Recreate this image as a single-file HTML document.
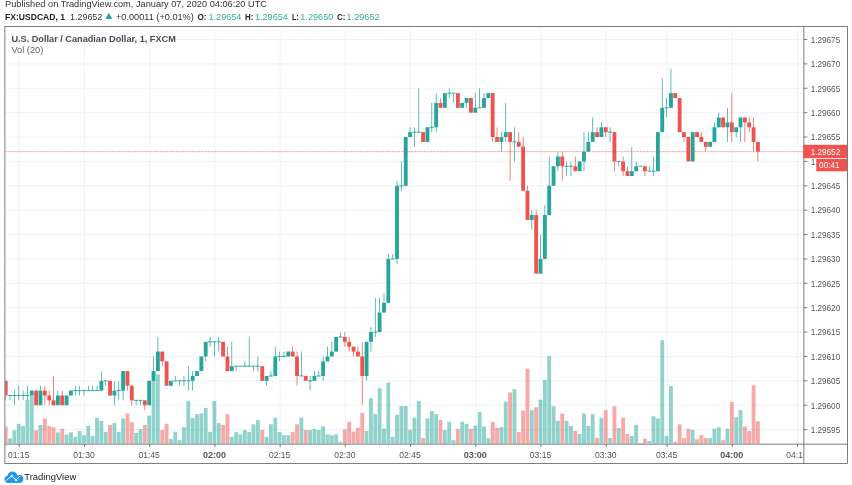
<!DOCTYPE html>
<html lang="en"><head><meta charset="utf-8"><title>FX:USDCAD chart</title>
<style>html,body{margin:0;padding:0;background:#fff;overflow:hidden}svg text{white-space:pre}</style></head>
<body>
<svg width="852" height="485" viewBox="0 0 852 485" style="display:block">
<defs><filter id="soft" x="0" y="0" width="852" height="485" filterUnits="userSpaceOnUse"><feGaussianBlur stdDeviation="0.7"/></filter></defs>
<g filter="url(#soft)">
<rect width="852" height="485" fill="#fff"/>
<defs><clipPath id="pane"><rect x="5.4" y="27.0" width="797.95" height="416.7"/></clipPath></defs>
<g stroke="#e1ecf2" stroke-width="0.72" stroke-opacity="0.85" clip-path="url(#pane)"><line x1="4.9" x2="803.85" y1="429.60" y2="429.60"/><line x1="4.9" x2="803.85" y1="405.22" y2="405.22"/><line x1="4.9" x2="803.85" y1="380.84" y2="380.84"/><line x1="4.9" x2="803.85" y1="356.46" y2="356.46"/><line x1="4.9" x2="803.85" y1="332.08" y2="332.08"/><line x1="4.9" x2="803.85" y1="307.70" y2="307.70"/><line x1="4.9" x2="803.85" y1="283.32" y2="283.32"/><line x1="4.9" x2="803.85" y1="258.94" y2="258.94"/><line x1="4.9" x2="803.85" y1="234.56" y2="234.56"/><line x1="4.9" x2="803.85" y1="210.18" y2="210.18"/><line x1="4.9" x2="803.85" y1="185.80" y2="185.80"/><line x1="4.9" x2="803.85" y1="161.42" y2="161.42"/><line x1="4.9" x2="803.85" y1="137.04" y2="137.04"/><line x1="4.9" x2="803.85" y1="112.66" y2="112.66"/><line x1="4.9" x2="803.85" y1="88.28" y2="88.28"/><line x1="4.9" x2="803.85" y1="63.90" y2="63.90"/><line x1="4.9" x2="803.85" y1="39.52" y2="39.52"/><line x1="19.25" x2="19.25" y1="26.5" y2="444.2"/><line x1="84.47" x2="84.47" y1="26.5" y2="444.2"/><line x1="149.69" x2="149.69" y1="26.5" y2="444.2"/><line x1="214.91" x2="214.91" y1="26.5" y2="444.2"/><line x1="280.13" x2="280.13" y1="26.5" y2="444.2"/><line x1="345.35" x2="345.35" y1="26.5" y2="444.2"/><line x1="410.57" x2="410.57" y1="26.5" y2="444.2"/><line x1="475.79" x2="475.79" y1="26.5" y2="444.2"/><line x1="541.01" x2="541.01" y1="26.5" y2="444.2"/><line x1="606.23" x2="606.23" y1="26.5" y2="444.2"/><line x1="667.10" x2="667.10" y1="26.5" y2="444.2"/><line x1="732.32" x2="732.32" y1="26.5" y2="444.2"/><line x1="797.54" x2="797.54" y1="26.5" y2="444.2"/></g>
<g clip-path="url(#pane)"><g fill="#26a69a" fill-opacity="0.5"><rect x="8.13" y="438.40" width="3.85" height="5.30"/><rect x="12.48" y="430.30" width="3.85" height="13.40"/><rect x="16.82" y="423.80" width="3.85" height="19.90"/><rect x="21.17" y="426.20" width="3.85" height="17.50"/><rect x="25.52" y="399.80" width="3.85" height="43.90"/><rect x="29.87" y="395.70" width="3.85" height="48.00"/><rect x="38.56" y="425.00" width="3.85" height="18.70"/><rect x="55.96" y="432.40" width="3.85" height="11.30"/><rect x="64.65" y="434.60" width="3.85" height="9.10"/><rect x="69.00" y="432.40" width="3.85" height="11.30"/><rect x="73.35" y="436.90" width="3.85" height="6.80"/><rect x="77.70" y="431.10" width="3.85" height="12.60"/><rect x="82.05" y="435.20" width="3.85" height="8.50"/><rect x="86.39" y="425.90" width="3.85" height="17.80"/><rect x="90.74" y="436.10" width="3.85" height="7.60"/><rect x="95.09" y="417.80" width="3.85" height="25.90"/><rect x="99.44" y="420.90" width="3.85" height="22.80"/><rect x="103.78" y="431.80" width="3.85" height="11.90"/><rect x="112.48" y="423.10" width="3.85" height="20.60"/><rect x="116.83" y="431.80" width="3.85" height="11.90"/><rect x="121.18" y="418.50" width="3.85" height="25.20"/><rect x="134.22" y="433.00" width="3.85" height="10.70"/><rect x="138.57" y="429.00" width="3.85" height="14.70"/><rect x="147.26" y="415.60" width="3.85" height="28.10"/><rect x="151.61" y="380.00" width="3.85" height="63.70"/><rect x="155.96" y="374.30" width="3.85" height="69.40"/><rect x="169.00" y="439.00" width="3.85" height="4.70"/><rect x="173.35" y="431.80" width="3.85" height="11.90"/><rect x="177.70" y="440.20" width="3.85" height="3.50"/><rect x="182.05" y="427.20" width="3.85" height="16.50"/><rect x="186.40" y="401.00" width="3.85" height="42.70"/><rect x="190.74" y="418.10" width="3.85" height="25.60"/><rect x="195.09" y="414.10" width="3.85" height="29.60"/><rect x="199.44" y="413.50" width="3.85" height="30.20"/><rect x="203.79" y="407.90" width="3.85" height="35.80"/><rect x="208.14" y="431.80" width="3.85" height="11.90"/><rect x="212.48" y="401.00" width="3.85" height="42.70"/><rect x="216.83" y="423.10" width="3.85" height="20.60"/><rect x="229.88" y="436.90" width="3.85" height="6.80"/><rect x="234.22" y="432.10" width="3.85" height="11.60"/><rect x="238.57" y="434.40" width="3.85" height="9.30"/><rect x="242.92" y="430.00" width="3.85" height="13.70"/><rect x="247.27" y="432.10" width="3.85" height="11.60"/><rect x="251.62" y="424.30" width="3.85" height="19.40"/><rect x="255.96" y="420.10" width="3.85" height="23.60"/><rect x="264.66" y="436.90" width="3.85" height="6.80"/><rect x="269.01" y="424.30" width="3.85" height="19.40"/><rect x="273.36" y="417.80" width="3.85" height="25.90"/><rect x="277.70" y="432.10" width="3.85" height="11.60"/><rect x="282.05" y="435.20" width="3.85" height="8.50"/><rect x="286.40" y="435.20" width="3.85" height="8.50"/><rect x="299.44" y="417.80" width="3.85" height="25.90"/><rect x="308.14" y="430.00" width="3.85" height="13.70"/><rect x="312.49" y="428.80" width="3.85" height="14.90"/><rect x="316.84" y="430.00" width="3.85" height="13.70"/><rect x="321.19" y="426.50" width="3.85" height="17.20"/><rect x="325.53" y="434.40" width="3.85" height="9.30"/><rect x="329.88" y="435.20" width="3.85" height="8.50"/><rect x="334.23" y="434.40" width="3.85" height="9.30"/><rect x="338.58" y="441.70" width="3.85" height="2.00"/><rect x="364.66" y="430.90" width="3.85" height="12.80"/><rect x="369.01" y="398.20" width="3.85" height="45.50"/><rect x="373.36" y="414.10" width="3.85" height="29.60"/><rect x="377.71" y="388.20" width="3.85" height="55.50"/><rect x="382.06" y="428.80" width="3.85" height="14.90"/><rect x="386.40" y="382.60" width="3.85" height="61.10"/><rect x="390.75" y="436.90" width="3.85" height="6.80"/><rect x="395.10" y="414.70" width="3.85" height="29.00"/><rect x="399.45" y="406.00" width="3.85" height="37.70"/><rect x="403.80" y="406.00" width="3.85" height="37.70"/><rect x="408.14" y="430.00" width="3.85" height="13.70"/><rect x="412.49" y="417.80" width="3.85" height="25.90"/><rect x="416.84" y="401.00" width="3.85" height="42.70"/><rect x="425.54" y="418.50" width="3.85" height="25.20"/><rect x="429.88" y="411.00" width="3.85" height="32.70"/><rect x="434.23" y="414.10" width="3.85" height="29.60"/><rect x="442.93" y="430.00" width="3.85" height="13.70"/><rect x="447.28" y="421.90" width="3.85" height="21.80"/><rect x="451.62" y="440.20" width="3.85" height="3.50"/><rect x="460.32" y="421.90" width="3.85" height="21.80"/><rect x="464.67" y="424.00" width="3.85" height="19.70"/><rect x="473.36" y="425.70" width="3.85" height="18.00"/><rect x="477.71" y="412.00" width="3.85" height="31.70"/><rect x="482.06" y="426.50" width="3.85" height="17.20"/><rect x="486.41" y="438.10" width="3.85" height="5.60"/><rect x="499.45" y="427.20" width="3.85" height="16.50"/><rect x="503.80" y="401.70" width="3.85" height="42.00"/><rect x="512.50" y="389.10" width="3.85" height="54.60"/><rect x="529.89" y="410.10" width="3.85" height="33.60"/><rect x="538.59" y="399.70" width="3.85" height="44.00"/><rect x="542.93" y="380.00" width="3.85" height="63.70"/><rect x="547.28" y="356.20" width="3.85" height="87.50"/><rect x="551.63" y="406.30" width="3.85" height="37.40"/><rect x="555.98" y="420.90" width="3.85" height="22.80"/><rect x="564.67" y="420.90" width="3.85" height="22.80"/><rect x="569.02" y="425.90" width="3.85" height="17.80"/><rect x="577.72" y="434.00" width="3.85" height="9.70"/><rect x="582.07" y="413.50" width="3.85" height="30.20"/><rect x="586.41" y="425.90" width="3.85" height="17.80"/><rect x="590.76" y="414.10" width="3.85" height="29.60"/><rect x="599.46" y="417.80" width="3.85" height="25.90"/><rect x="608.15" y="438.10" width="3.85" height="5.60"/><rect x="616.85" y="428.00" width="3.85" height="15.70"/><rect x="629.89" y="435.90" width="3.85" height="7.80"/><rect x="634.24" y="425.00" width="3.85" height="18.70"/><rect x="638.59" y="443.00" width="3.85" height="0.70"/><rect x="647.29" y="441.10" width="3.85" height="2.60"/><rect x="651.63" y="416.30" width="3.85" height="27.40"/><rect x="655.98" y="418.50" width="3.85" height="25.20"/><rect x="660.33" y="340.20" width="3.85" height="103.50"/><rect x="664.68" y="435.90" width="3.85" height="7.80"/><rect x="669.02" y="386.00" width="3.85" height="57.70"/><rect x="690.76" y="430.00" width="3.85" height="13.70"/><rect x="708.16" y="438.10" width="3.85" height="5.60"/><rect x="712.50" y="428.80" width="3.85" height="14.90"/><rect x="716.85" y="427.20" width="3.85" height="16.50"/><rect x="725.55" y="428.80" width="3.85" height="14.90"/><rect x="734.25" y="417.20" width="3.85" height="26.50"/><rect x="738.59" y="410.10" width="3.85" height="33.60"/></g>
<g fill="#ef5350" fill-opacity="0.5"><rect x="3.78" y="426.50" width="3.85" height="17.20"/><rect x="34.22" y="430.30" width="3.85" height="13.40"/><rect x="42.91" y="418.50" width="3.85" height="25.20"/><rect x="47.26" y="425.90" width="3.85" height="17.80"/><rect x="51.61" y="427.20" width="3.85" height="16.50"/><rect x="60.30" y="428.80" width="3.85" height="14.90"/><rect x="108.13" y="425.00" width="3.85" height="18.70"/><rect x="125.53" y="413.50" width="3.85" height="30.20"/><rect x="129.87" y="422.20" width="3.85" height="21.50"/><rect x="142.92" y="425.00" width="3.85" height="18.70"/><rect x="160.31" y="430.00" width="3.85" height="13.70"/><rect x="164.66" y="423.80" width="3.85" height="19.90"/><rect x="221.18" y="425.00" width="3.85" height="18.70"/><rect x="225.53" y="414.10" width="3.85" height="29.60"/><rect x="260.31" y="430.00" width="3.85" height="13.70"/><rect x="290.75" y="432.10" width="3.85" height="11.60"/><rect x="295.10" y="424.30" width="3.85" height="19.40"/><rect x="303.79" y="430.00" width="3.85" height="13.70"/><rect x="342.92" y="429.30" width="3.85" height="14.40"/><rect x="347.27" y="421.90" width="3.85" height="21.80"/><rect x="351.62" y="431.50" width="3.85" height="12.20"/><rect x="355.97" y="427.80" width="3.85" height="15.90"/><rect x="360.32" y="412.90" width="3.85" height="30.80"/><rect x="421.19" y="438.10" width="3.85" height="5.60"/><rect x="438.58" y="420.10" width="3.85" height="23.60"/><rect x="455.97" y="429.00" width="3.85" height="14.70"/><rect x="469.02" y="429.00" width="3.85" height="14.70"/><rect x="490.76" y="421.90" width="3.85" height="21.80"/><rect x="495.10" y="427.80" width="3.85" height="15.90"/><rect x="508.15" y="392.40" width="3.85" height="51.30"/><rect x="516.85" y="432.10" width="3.85" height="11.60"/><rect x="521.19" y="410.60" width="3.85" height="33.10"/><rect x="525.54" y="368.60" width="3.85" height="75.10"/><rect x="534.24" y="407.30" width="3.85" height="36.40"/><rect x="560.33" y="413.50" width="3.85" height="30.20"/><rect x="573.37" y="430.90" width="3.85" height="12.80"/><rect x="595.11" y="438.10" width="3.85" height="5.60"/><rect x="603.81" y="410.10" width="3.85" height="33.60"/><rect x="612.50" y="406.30" width="3.85" height="37.40"/><rect x="621.20" y="417.80" width="3.85" height="25.90"/><rect x="625.55" y="434.00" width="3.85" height="9.70"/><rect x="642.94" y="438.70" width="3.85" height="5.00"/><rect x="673.37" y="441.70" width="3.85" height="2.00"/><rect x="677.72" y="424.30" width="3.85" height="19.40"/><rect x="682.07" y="438.10" width="3.85" height="5.60"/><rect x="686.42" y="428.80" width="3.85" height="14.90"/><rect x="695.11" y="439.30" width="3.85" height="4.40"/><rect x="699.46" y="435.20" width="3.85" height="8.50"/><rect x="703.81" y="438.10" width="3.85" height="5.60"/><rect x="721.20" y="440.20" width="3.85" height="3.50"/><rect x="729.90" y="401.90" width="3.85" height="41.80"/><rect x="742.94" y="426.50" width="3.85" height="17.20"/><rect x="747.29" y="430.90" width="3.85" height="12.80"/><rect x="751.64" y="385.20" width="3.85" height="58.50"/><rect x="755.99" y="421.30" width="3.85" height="22.40"/></g></g>
<g clip-path="url(#pane)"><g fill="#26a69a"><rect x="9.69" y="395.47" width="0.72" height="4.88"/><rect x="8.13" y="394.97" width="3.85" height="1.00"/><rect x="14.04" y="390.59" width="0.72" height="14.63"/><rect x="12.48" y="394.97" width="3.85" height="1.00"/><rect x="18.39" y="385.72" width="0.72" height="14.63"/><rect x="16.82" y="394.97" width="3.85" height="1.00"/><rect x="22.74" y="390.59" width="0.72" height="9.75"/><rect x="21.17" y="394.97" width="3.85" height="1.00"/><rect x="27.09" y="385.72" width="0.72" height="14.63"/><rect x="25.52" y="394.97" width="3.85" height="1.00"/><rect x="31.43" y="390.59" width="0.72" height="4.88"/><rect x="29.87" y="390.59" width="3.85" height="4.88"/><rect x="40.13" y="385.72" width="0.72" height="19.50"/><rect x="38.56" y="390.59" width="3.85" height="14.63"/><rect x="57.52" y="390.59" width="0.72" height="14.63"/><rect x="55.96" y="395.47" width="3.85" height="9.75"/><rect x="66.22" y="395.47" width="0.72" height="9.75"/><rect x="64.65" y="395.47" width="3.85" height="9.75"/><rect x="70.57" y="390.59" width="0.72" height="4.88"/><rect x="69.00" y="390.59" width="3.85" height="4.88"/><rect x="74.91" y="385.72" width="0.72" height="9.75"/><rect x="73.35" y="390.09" width="3.85" height="1.00"/><rect x="79.26" y="385.72" width="0.72" height="9.75"/><rect x="77.70" y="390.09" width="3.85" height="1.00"/><rect x="83.61" y="390.59" width="0.72" height="4.88"/><rect x="82.05" y="390.09" width="3.85" height="1.00"/><rect x="87.96" y="385.72" width="0.72" height="4.88"/><rect x="86.39" y="390.09" width="3.85" height="1.00"/><rect x="92.31" y="385.72" width="0.72" height="4.88"/><rect x="90.74" y="390.09" width="3.85" height="1.00"/><rect x="96.65" y="385.72" width="0.72" height="4.88"/><rect x="95.09" y="390.09" width="3.85" height="1.00"/><rect x="101.00" y="371.09" width="0.72" height="19.50"/><rect x="99.44" y="380.84" width="3.85" height="9.75"/><rect x="105.35" y="380.84" width="0.72" height="4.88"/><rect x="103.78" y="380.34" width="3.85" height="1.00"/><rect x="114.05" y="380.84" width="0.72" height="24.38"/><rect x="112.48" y="390.59" width="3.85" height="4.88"/><rect x="118.39" y="380.84" width="0.72" height="19.50"/><rect x="116.83" y="390.09" width="3.85" height="1.00"/><rect x="122.74" y="371.09" width="0.72" height="29.26"/><rect x="121.18" y="371.09" width="3.85" height="19.50"/><rect x="135.79" y="400.34" width="0.72" height="4.88"/><rect x="134.22" y="399.84" width="3.85" height="1.00"/><rect x="140.13" y="400.34" width="0.72" height="4.88"/><rect x="138.57" y="399.84" width="3.85" height="1.00"/><rect x="148.83" y="380.84" width="0.72" height="24.38"/><rect x="147.26" y="380.84" width="3.85" height="24.38"/><rect x="153.18" y="356.46" width="0.72" height="24.38"/><rect x="151.61" y="371.09" width="3.85" height="9.75"/><rect x="157.53" y="336.96" width="0.72" height="34.13"/><rect x="155.96" y="351.58" width="3.85" height="19.50"/><rect x="170.57" y="380.84" width="0.72" height="4.88"/><rect x="169.00" y="380.84" width="3.85" height="4.88"/><rect x="174.92" y="375.96" width="0.72" height="4.88"/><rect x="173.35" y="380.34" width="3.85" height="1.00"/><rect x="179.27" y="380.84" width="0.72" height="4.88"/><rect x="177.70" y="380.34" width="3.85" height="1.00"/><rect x="183.61" y="375.96" width="0.72" height="9.75"/><rect x="182.05" y="380.34" width="3.85" height="1.00"/><rect x="187.96" y="366.21" width="0.72" height="24.38"/><rect x="186.40" y="380.34" width="3.85" height="1.00"/><rect x="192.31" y="371.09" width="0.72" height="19.50"/><rect x="190.74" y="375.96" width="3.85" height="4.88"/><rect x="196.66" y="371.09" width="0.72" height="4.88"/><rect x="195.09" y="371.09" width="3.85" height="4.88"/><rect x="201.01" y="356.46" width="0.72" height="14.63"/><rect x="199.44" y="356.46" width="3.85" height="14.63"/><rect x="205.35" y="341.83" width="0.72" height="19.50"/><rect x="203.79" y="341.83" width="3.85" height="14.63"/><rect x="209.70" y="336.96" width="0.72" height="9.75"/><rect x="208.14" y="341.33" width="3.85" height="1.00"/><rect x="214.05" y="341.83" width="0.72" height="14.63"/><rect x="212.48" y="341.33" width="3.85" height="1.00"/><rect x="218.40" y="336.96" width="0.72" height="14.63"/><rect x="216.83" y="341.33" width="3.85" height="1.00"/><rect x="231.44" y="341.83" width="0.72" height="29.26"/><rect x="229.88" y="366.21" width="3.85" height="4.88"/><rect x="235.79" y="366.21" width="0.72" height="4.88"/><rect x="234.22" y="365.71" width="3.85" height="1.00"/><rect x="240.14" y="366.21" width="0.72" height="0.00"/><rect x="238.57" y="365.71" width="3.85" height="1.00"/><rect x="244.49" y="361.34" width="0.72" height="4.88"/><rect x="242.92" y="365.71" width="3.85" height="1.00"/><rect x="248.83" y="336.96" width="0.72" height="29.26"/><rect x="247.27" y="365.71" width="3.85" height="1.00"/><rect x="253.18" y="366.21" width="0.72" height="4.88"/><rect x="251.62" y="365.71" width="3.85" height="1.00"/><rect x="257.53" y="356.46" width="0.72" height="14.63"/><rect x="255.96" y="365.71" width="3.85" height="1.00"/><rect x="266.23" y="375.96" width="0.72" height="9.75"/><rect x="264.66" y="375.96" width="3.85" height="4.88"/><rect x="270.57" y="371.09" width="0.72" height="4.88"/><rect x="269.01" y="375.46" width="3.85" height="1.00"/><rect x="274.92" y="346.71" width="0.72" height="29.26"/><rect x="273.36" y="356.46" width="3.85" height="19.50"/><rect x="279.27" y="351.58" width="0.72" height="9.75"/><rect x="277.70" y="355.96" width="3.85" height="1.00"/><rect x="283.62" y="351.58" width="0.72" height="4.88"/><rect x="282.05" y="355.96" width="3.85" height="1.00"/><rect x="287.97" y="351.58" width="0.72" height="4.88"/><rect x="286.40" y="351.58" width="3.85" height="4.88"/><rect x="301.01" y="351.58" width="0.72" height="24.38"/><rect x="299.44" y="375.46" width="3.85" height="1.00"/><rect x="309.71" y="375.96" width="0.72" height="14.63"/><rect x="308.14" y="380.34" width="3.85" height="1.00"/><rect x="314.05" y="371.09" width="0.72" height="9.75"/><rect x="312.49" y="375.96" width="3.85" height="4.88"/><rect x="318.40" y="371.09" width="0.72" height="4.88"/><rect x="316.84" y="375.46" width="3.85" height="1.00"/><rect x="322.75" y="356.46" width="0.72" height="24.38"/><rect x="321.19" y="361.34" width="3.85" height="14.63"/><rect x="327.10" y="346.71" width="0.72" height="14.63"/><rect x="325.53" y="356.46" width="3.85" height="4.88"/><rect x="331.45" y="341.83" width="0.72" height="14.63"/><rect x="329.88" y="351.58" width="3.85" height="4.88"/><rect x="335.79" y="336.96" width="0.72" height="14.63"/><rect x="334.23" y="336.96" width="3.85" height="14.63"/><rect x="340.14" y="332.08" width="0.72" height="4.88"/><rect x="338.58" y="336.46" width="3.85" height="1.00"/><rect x="366.23" y="341.83" width="0.72" height="39.01"/><rect x="364.66" y="341.83" width="3.85" height="34.13"/><rect x="370.58" y="327.20" width="0.72" height="24.38"/><rect x="369.01" y="332.08" width="3.85" height="9.75"/><rect x="374.93" y="297.95" width="0.72" height="39.01"/><rect x="373.36" y="331.58" width="3.85" height="1.00"/><rect x="379.27" y="297.95" width="0.72" height="34.13"/><rect x="377.71" y="312.58" width="3.85" height="19.50"/><rect x="383.62" y="293.07" width="0.72" height="19.50"/><rect x="382.06" y="302.82" width="3.85" height="9.75"/><rect x="387.97" y="254.06" width="0.72" height="48.76"/><rect x="386.40" y="258.94" width="3.85" height="43.88"/><rect x="392.32" y="254.06" width="0.72" height="4.88"/><rect x="390.75" y="258.44" width="3.85" height="1.00"/><rect x="396.67" y="180.92" width="0.72" height="82.89"/><rect x="395.10" y="185.80" width="3.85" height="73.14"/><rect x="401.01" y="161.42" width="0.72" height="29.26"/><rect x="399.45" y="185.30" width="3.85" height="1.00"/><rect x="405.36" y="137.04" width="0.72" height="48.76"/><rect x="403.80" y="137.04" width="3.85" height="48.76"/><rect x="409.71" y="127.29" width="0.72" height="9.75"/><rect x="408.14" y="132.16" width="3.85" height="4.88"/><rect x="414.06" y="127.29" width="0.72" height="19.50"/><rect x="412.49" y="131.66" width="3.85" height="1.00"/><rect x="418.41" y="88.28" width="0.72" height="43.88"/><rect x="416.84" y="131.66" width="3.85" height="1.00"/><rect x="427.10" y="127.29" width="0.72" height="14.63"/><rect x="425.54" y="127.29" width="3.85" height="14.63"/><rect x="431.45" y="102.91" width="0.72" height="29.26"/><rect x="429.88" y="126.79" width="3.85" height="1.00"/><rect x="435.80" y="93.16" width="0.72" height="39.01"/><rect x="434.23" y="102.91" width="3.85" height="24.38"/><rect x="444.49" y="93.16" width="0.72" height="14.63"/><rect x="442.93" y="93.16" width="3.85" height="14.63"/><rect x="448.84" y="88.28" width="0.72" height="9.75"/><rect x="447.28" y="92.66" width="3.85" height="1.00"/><rect x="453.19" y="93.16" width="0.72" height="9.75"/><rect x="451.62" y="92.66" width="3.85" height="1.00"/><rect x="461.89" y="102.91" width="0.72" height="4.88"/><rect x="460.32" y="102.91" width="3.85" height="4.88"/><rect x="466.23" y="98.03" width="0.72" height="9.75"/><rect x="464.67" y="98.03" width="3.85" height="4.88"/><rect x="474.93" y="93.16" width="0.72" height="19.50"/><rect x="473.36" y="107.78" width="3.85" height="4.88"/><rect x="479.28" y="88.28" width="0.72" height="19.50"/><rect x="477.71" y="107.28" width="3.85" height="1.00"/><rect x="483.63" y="93.16" width="0.72" height="14.63"/><rect x="482.06" y="98.03" width="3.85" height="9.75"/><rect x="487.97" y="93.16" width="0.72" height="4.88"/><rect x="486.41" y="93.16" width="3.85" height="4.88"/><rect x="501.02" y="132.16" width="0.72" height="19.50"/><rect x="499.45" y="137.04" width="3.85" height="4.88"/><rect x="505.37" y="102.91" width="0.72" height="39.01"/><rect x="503.80" y="132.16" width="3.85" height="4.88"/><rect x="514.06" y="127.29" width="0.72" height="34.13"/><rect x="512.50" y="141.42" width="3.85" height="1.00"/><rect x="531.45" y="210.18" width="0.72" height="19.50"/><rect x="529.89" y="215.06" width="3.85" height="4.88"/><rect x="540.15" y="234.56" width="0.72" height="39.01"/><rect x="538.59" y="258.94" width="3.85" height="14.63"/><rect x="544.50" y="205.30" width="0.72" height="53.64"/><rect x="542.93" y="215.06" width="3.85" height="43.88"/><rect x="548.85" y="156.54" width="0.72" height="58.51"/><rect x="547.28" y="185.80" width="3.85" height="29.26"/><rect x="553.19" y="166.30" width="0.72" height="19.50"/><rect x="551.63" y="166.30" width="3.85" height="19.50"/><rect x="557.54" y="151.67" width="0.72" height="19.50"/><rect x="555.98" y="156.54" width="3.85" height="9.75"/><rect x="566.24" y="161.42" width="0.72" height="14.63"/><rect x="564.67" y="165.80" width="3.85" height="1.00"/><rect x="570.59" y="161.42" width="0.72" height="14.63"/><rect x="569.02" y="165.80" width="3.85" height="1.00"/><rect x="579.28" y="161.42" width="0.72" height="9.75"/><rect x="577.72" y="161.42" width="3.85" height="9.75"/><rect x="583.63" y="132.16" width="0.72" height="39.01"/><rect x="582.07" y="151.67" width="3.85" height="9.75"/><rect x="587.98" y="132.16" width="0.72" height="19.50"/><rect x="586.41" y="141.92" width="3.85" height="9.75"/><rect x="592.33" y="117.54" width="0.72" height="24.38"/><rect x="590.76" y="132.16" width="3.85" height="9.75"/><rect x="601.02" y="122.41" width="0.72" height="14.63"/><rect x="599.46" y="127.29" width="3.85" height="9.75"/><rect x="609.72" y="127.29" width="0.72" height="14.63"/><rect x="608.15" y="131.66" width="3.85" height="1.00"/><rect x="618.41" y="161.42" width="0.72" height="4.88"/><rect x="616.85" y="160.92" width="3.85" height="1.00"/><rect x="631.46" y="146.79" width="0.72" height="29.26"/><rect x="629.89" y="171.17" width="3.85" height="4.88"/><rect x="635.81" y="161.42" width="0.72" height="9.75"/><rect x="634.24" y="166.30" width="3.85" height="4.88"/><rect x="640.15" y="166.30" width="0.72" height="0.00"/><rect x="638.59" y="165.80" width="3.85" height="1.00"/><rect x="648.85" y="166.30" width="0.72" height="4.88"/><rect x="647.29" y="170.67" width="3.85" height="1.00"/><rect x="653.20" y="156.54" width="0.72" height="19.50"/><rect x="651.63" y="170.67" width="3.85" height="1.00"/><rect x="657.55" y="132.16" width="0.72" height="39.01"/><rect x="655.98" y="132.16" width="3.85" height="39.01"/><rect x="661.89" y="78.53" width="0.72" height="53.64"/><rect x="660.33" y="107.78" width="3.85" height="24.38"/><rect x="666.24" y="98.03" width="0.72" height="19.50"/><rect x="664.68" y="107.28" width="3.85" height="1.00"/><rect x="670.59" y="68.78" width="0.72" height="39.01"/><rect x="669.02" y="93.16" width="3.85" height="14.63"/><rect x="692.33" y="132.16" width="0.72" height="29.26"/><rect x="690.76" y="132.16" width="3.85" height="29.26"/><rect x="709.72" y="141.92" width="0.72" height="4.88"/><rect x="708.16" y="141.92" width="3.85" height="4.88"/><rect x="714.07" y="122.41" width="0.72" height="19.50"/><rect x="712.50" y="127.29" width="3.85" height="14.63"/><rect x="718.42" y="112.66" width="0.72" height="14.63"/><rect x="716.85" y="117.54" width="3.85" height="9.75"/><rect x="727.11" y="107.78" width="0.72" height="34.13"/><rect x="725.55" y="122.41" width="3.85" height="4.88"/><rect x="735.81" y="127.29" width="0.72" height="9.75"/><rect x="734.25" y="127.29" width="3.85" height="4.88"/><rect x="740.16" y="117.54" width="0.72" height="24.38"/><rect x="738.59" y="117.54" width="3.85" height="9.75"/></g>
<g fill="#ef5350"><rect x="5.35" y="380.84" width="0.72" height="19.50"/><rect x="3.78" y="380.84" width="3.85" height="14.63"/><rect x="35.78" y="390.59" width="0.72" height="14.63"/><rect x="34.22" y="390.59" width="3.85" height="14.63"/><rect x="44.48" y="385.72" width="0.72" height="19.50"/><rect x="42.91" y="390.59" width="3.85" height="4.88"/><rect x="48.83" y="390.59" width="0.72" height="14.63"/><rect x="47.26" y="395.47" width="3.85" height="4.88"/><rect x="53.17" y="375.96" width="0.72" height="29.26"/><rect x="51.61" y="400.34" width="3.85" height="4.88"/><rect x="61.87" y="390.59" width="0.72" height="14.63"/><rect x="60.30" y="395.47" width="3.85" height="9.75"/><rect x="109.70" y="380.84" width="0.72" height="14.63"/><rect x="108.13" y="380.84" width="3.85" height="14.63"/><rect x="127.09" y="371.09" width="0.72" height="19.50"/><rect x="125.53" y="371.09" width="3.85" height="14.63"/><rect x="131.44" y="385.72" width="0.72" height="19.50"/><rect x="129.87" y="385.72" width="3.85" height="14.63"/><rect x="144.48" y="400.34" width="0.72" height="9.75"/><rect x="142.92" y="400.34" width="3.85" height="4.88"/><rect x="161.87" y="351.58" width="0.72" height="14.63"/><rect x="160.31" y="351.58" width="3.85" height="9.75"/><rect x="166.22" y="361.34" width="0.72" height="24.38"/><rect x="164.66" y="361.34" width="3.85" height="24.38"/><rect x="222.75" y="341.83" width="0.72" height="14.63"/><rect x="221.18" y="341.83" width="3.85" height="14.63"/><rect x="227.09" y="346.71" width="0.72" height="24.38"/><rect x="225.53" y="356.46" width="3.85" height="14.63"/><rect x="261.88" y="366.21" width="0.72" height="14.63"/><rect x="260.31" y="366.21" width="3.85" height="14.63"/><rect x="292.31" y="346.71" width="0.72" height="9.75"/><rect x="290.75" y="351.58" width="3.85" height="4.88"/><rect x="296.66" y="351.58" width="0.72" height="34.13"/><rect x="295.10" y="356.46" width="3.85" height="19.50"/><rect x="305.36" y="375.96" width="0.72" height="4.88"/><rect x="303.79" y="375.96" width="3.85" height="4.88"/><rect x="344.49" y="332.08" width="0.72" height="14.63"/><rect x="342.92" y="336.96" width="3.85" height="4.88"/><rect x="348.84" y="336.96" width="0.72" height="14.63"/><rect x="347.27" y="341.83" width="3.85" height="4.88"/><rect x="353.19" y="346.71" width="0.72" height="9.75"/><rect x="351.62" y="346.71" width="3.85" height="4.88"/><rect x="357.53" y="346.71" width="0.72" height="9.75"/><rect x="355.97" y="351.58" width="3.85" height="4.88"/><rect x="361.88" y="341.83" width="0.72" height="63.39"/><rect x="360.32" y="356.46" width="3.85" height="19.50"/><rect x="422.75" y="132.16" width="0.72" height="9.75"/><rect x="421.19" y="132.16" width="3.85" height="9.75"/><rect x="440.15" y="98.03" width="0.72" height="9.75"/><rect x="438.58" y="102.91" width="3.85" height="4.88"/><rect x="457.54" y="93.16" width="0.72" height="14.63"/><rect x="455.97" y="93.16" width="3.85" height="14.63"/><rect x="470.58" y="98.03" width="0.72" height="14.63"/><rect x="469.02" y="98.03" width="3.85" height="14.63"/><rect x="492.32" y="93.16" width="0.72" height="48.76"/><rect x="490.76" y="93.16" width="3.85" height="43.88"/><rect x="496.67" y="127.29" width="0.72" height="14.63"/><rect x="495.10" y="137.04" width="3.85" height="4.88"/><rect x="509.71" y="132.16" width="0.72" height="48.76"/><rect x="508.15" y="132.16" width="3.85" height="9.75"/><rect x="518.41" y="132.16" width="0.72" height="14.63"/><rect x="516.85" y="141.92" width="3.85" height="4.88"/><rect x="522.76" y="137.04" width="0.72" height="53.64"/><rect x="521.19" y="146.79" width="3.85" height="43.88"/><rect x="527.11" y="185.80" width="0.72" height="34.13"/><rect x="525.54" y="190.68" width="3.85" height="29.26"/><rect x="535.80" y="210.18" width="0.72" height="63.39"/><rect x="534.24" y="215.06" width="3.85" height="58.51"/><rect x="561.89" y="151.67" width="0.72" height="29.26"/><rect x="560.33" y="156.54" width="3.85" height="9.75"/><rect x="574.93" y="156.54" width="0.72" height="14.63"/><rect x="573.37" y="166.30" width="3.85" height="4.88"/><rect x="596.67" y="127.29" width="0.72" height="9.75"/><rect x="595.11" y="132.16" width="3.85" height="4.88"/><rect x="605.37" y="127.29" width="0.72" height="9.75"/><rect x="603.81" y="127.29" width="3.85" height="4.88"/><rect x="614.07" y="132.16" width="0.72" height="39.01"/><rect x="612.50" y="132.16" width="3.85" height="29.26"/><rect x="622.76" y="156.54" width="0.72" height="19.50"/><rect x="621.20" y="161.42" width="3.85" height="9.75"/><rect x="627.11" y="166.30" width="0.72" height="9.75"/><rect x="625.55" y="171.17" width="3.85" height="4.88"/><rect x="644.50" y="166.30" width="0.72" height="9.75"/><rect x="642.94" y="166.30" width="3.85" height="4.88"/><rect x="674.94" y="93.16" width="0.72" height="4.88"/><rect x="673.37" y="93.16" width="3.85" height="4.88"/><rect x="679.29" y="98.03" width="0.72" height="34.13"/><rect x="677.72" y="98.03" width="3.85" height="34.13"/><rect x="683.63" y="132.16" width="0.72" height="9.75"/><rect x="682.07" y="132.16" width="3.85" height="4.88"/><rect x="687.98" y="137.04" width="0.72" height="24.38"/><rect x="686.42" y="137.04" width="3.85" height="24.38"/><rect x="696.68" y="132.16" width="0.72" height="4.88"/><rect x="695.11" y="132.16" width="3.85" height="4.88"/><rect x="701.03" y="132.16" width="0.72" height="9.75"/><rect x="699.46" y="137.04" width="3.85" height="4.88"/><rect x="705.37" y="141.92" width="0.72" height="9.75"/><rect x="703.81" y="141.92" width="3.85" height="4.88"/><rect x="722.77" y="117.54" width="0.72" height="9.75"/><rect x="721.20" y="117.54" width="3.85" height="9.75"/><rect x="731.46" y="93.16" width="0.72" height="48.76"/><rect x="729.90" y="122.41" width="3.85" height="9.75"/><rect x="744.51" y="117.54" width="0.72" height="24.38"/><rect x="742.94" y="117.54" width="3.85" height="4.88"/><rect x="748.85" y="117.54" width="0.72" height="14.63"/><rect x="747.29" y="122.41" width="3.85" height="4.88"/><rect x="753.20" y="117.54" width="0.72" height="34.13"/><rect x="751.64" y="127.29" width="3.85" height="14.63"/><rect x="757.55" y="141.92" width="0.72" height="19.50"/><rect x="755.99" y="141.92" width="3.85" height="9.75"/></g>
<line x1="4.9" x2="803.85" y1="151.67" y2="151.67" stroke="#ef5350" stroke-width="0.8" stroke-dasharray="0.725 0.725"/></g>
<g stroke="#50525a" stroke-width="0.75" fill="none">
<rect x="4.9" y="26.5" width="842.6" height="437.0"/>
<line x1="803.85" x2="803.85" y1="26.5" y2="463.5"/>
<line x1="4.9" x2="847.5" y1="444.2" y2="444.2"/>
<line x1="803.85" x2="807.35" y1="429.60" y2="429.60"/>
<line x1="803.85" x2="807.35" y1="405.22" y2="405.22"/>
<line x1="803.85" x2="807.35" y1="380.84" y2="380.84"/>
<line x1="803.85" x2="807.35" y1="356.46" y2="356.46"/>
<line x1="803.85" x2="807.35" y1="332.08" y2="332.08"/>
<line x1="803.85" x2="807.35" y1="307.70" y2="307.70"/>
<line x1="803.85" x2="807.35" y1="283.32" y2="283.32"/>
<line x1="803.85" x2="807.35" y1="258.94" y2="258.94"/>
<line x1="803.85" x2="807.35" y1="234.56" y2="234.56"/>
<line x1="803.85" x2="807.35" y1="210.18" y2="210.18"/>
<line x1="803.85" x2="807.35" y1="185.80" y2="185.80"/>
<line x1="803.85" x2="807.35" y1="161.42" y2="161.42"/>
<line x1="803.85" x2="807.35" y1="137.04" y2="137.04"/>
<line x1="803.85" x2="807.35" y1="112.66" y2="112.66"/>
<line x1="803.85" x2="807.35" y1="88.28" y2="88.28"/>
<line x1="803.85" x2="807.35" y1="63.90" y2="63.90"/>
<line x1="803.85" x2="807.35" y1="39.52" y2="39.52"/>
<line x1="19.25" x2="19.25" y1="444.2" y2="447.0"/>
<line x1="84.47" x2="84.47" y1="444.2" y2="447.0"/>
<line x1="149.69" x2="149.69" y1="444.2" y2="447.0"/>
<line x1="214.91" x2="214.91" y1="444.2" y2="447.0"/>
<line x1="280.13" x2="280.13" y1="444.2" y2="447.0"/>
<line x1="345.35" x2="345.35" y1="444.2" y2="447.0"/>
<line x1="410.57" x2="410.57" y1="444.2" y2="447.0"/>
<line x1="475.79" x2="475.79" y1="444.2" y2="447.0"/>
<line x1="541.01" x2="541.01" y1="444.2" y2="447.0"/>
<line x1="606.23" x2="606.23" y1="444.2" y2="447.0"/>
<line x1="667.10" x2="667.10" y1="444.2" y2="447.0"/>
<line x1="732.32" x2="732.32" y1="444.2" y2="447.0"/>
<line x1="797.54" x2="797.54" y1="444.2" y2="447.0"/>
</g>
<g font-family="Liberation Sans, Arial, sans-serif" font-size="9.0" fill="#555"><text x="810.7" y="432.90" textLength="29.5" lengthAdjust="spacingAndGlyphs">1.29595</text><text x="810.7" y="408.52" textLength="29.5" lengthAdjust="spacingAndGlyphs">1.29600</text><text x="810.7" y="384.14" textLength="29.5" lengthAdjust="spacingAndGlyphs">1.29605</text><text x="810.7" y="359.76" textLength="29.5" lengthAdjust="spacingAndGlyphs">1.29610</text><text x="810.7" y="335.38" textLength="29.5" lengthAdjust="spacingAndGlyphs">1.29615</text><text x="810.7" y="311.00" textLength="29.5" lengthAdjust="spacingAndGlyphs">1.29620</text><text x="810.7" y="286.62" textLength="29.5" lengthAdjust="spacingAndGlyphs">1.29625</text><text x="810.7" y="262.24" textLength="29.5" lengthAdjust="spacingAndGlyphs">1.29630</text><text x="810.7" y="237.86" textLength="29.5" lengthAdjust="spacingAndGlyphs">1.29635</text><text x="810.7" y="213.48" textLength="29.5" lengthAdjust="spacingAndGlyphs">1.29640</text><text x="810.7" y="189.10" textLength="29.5" lengthAdjust="spacingAndGlyphs">1.29645</text><text x="810.7" y="164.72" textLength="29.5" lengthAdjust="spacingAndGlyphs">1.29650</text><text x="810.7" y="140.34" textLength="29.5" lengthAdjust="spacingAndGlyphs">1.29655</text><text x="810.7" y="115.96" textLength="29.5" lengthAdjust="spacingAndGlyphs">1.29660</text><text x="810.7" y="91.58" textLength="29.5" lengthAdjust="spacingAndGlyphs">1.29665</text><text x="810.7" y="67.20" textLength="29.5" lengthAdjust="spacingAndGlyphs">1.29670</text><text x="810.7" y="42.82" textLength="29.5" lengthAdjust="spacingAndGlyphs">1.29675</text></g>
<rect x="803.2" y="144.8" width="43.8" height="13.4" fill="#ef5350"/>
<rect x="816.3" y="159" width="30.7" height="12.3" fill="#ef5350"/>
<g font-family="Liberation Sans, Arial, sans-serif" font-size="9.0" fill="#fff"><text x="810.7" y="154.67" textLength="29.5" lengthAdjust="spacingAndGlyphs">1.29652</text>
<text x="819.1" y="168.4" textLength="20.4" lengthAdjust="spacingAndGlyphs">00:41</text></g>
<defs><clipPath id="tax"><rect x="4.9" y="444.2" width="798.45" height="19.30000000000001"/></clipPath></defs>
<g font-family="Liberation Sans, Arial, sans-serif" font-size="9.0" fill="#555" clip-path="url(#tax)"><text x="8.05" y="458.4" textLength="21.4" lengthAdjust="spacingAndGlyphs">01:15</text><text x="73.27" y="458.4" textLength="21.4" lengthAdjust="spacingAndGlyphs">01:30</text><text x="138.49" y="458.4" textLength="21.4" lengthAdjust="spacingAndGlyphs">01:45</text><text x="202.91" y="458.4" textLength="23" lengthAdjust="spacingAndGlyphs" font-weight="bold">02:00</text><text x="268.93" y="458.4" textLength="21.4" lengthAdjust="spacingAndGlyphs">02:15</text><text x="334.15" y="458.4" textLength="21.4" lengthAdjust="spacingAndGlyphs">02:30</text><text x="399.37" y="458.4" textLength="21.4" lengthAdjust="spacingAndGlyphs">02:45</text><text x="463.79" y="458.4" textLength="23" lengthAdjust="spacingAndGlyphs" font-weight="bold">03:00</text><text x="529.81" y="458.4" textLength="21.4" lengthAdjust="spacingAndGlyphs">03:15</text><text x="595.03" y="458.4" textLength="21.4" lengthAdjust="spacingAndGlyphs">03:30</text><text x="655.90" y="458.4" textLength="21.4" lengthAdjust="spacingAndGlyphs">03:45</text><text x="720.32" y="458.4" textLength="23" lengthAdjust="spacingAndGlyphs" font-weight="bold">04:00</text><text x="786.34" y="458.4" textLength="21.4" lengthAdjust="spacingAndGlyphs">04:15</text></g>
<g font-family="Liberation Sans, Arial, sans-serif" fill="#333">
<text x="5" y="6.5" font-size="8.6" textLength="262" lengthAdjust="spacingAndGlyphs">Published on TradingView.com, January 07, 2020 04:06:20 UTC</text>
<g font-size="8.6">
<text x="5" y="19.6" textLength="60.00" lengthAdjust="spacingAndGlyphs" font-weight="bold" fill="#222">FX:USDCAD, 1</text>
<text x="70" y="19.6" textLength="32.30" lengthAdjust="spacingAndGlyphs">1.29652</text>
<path d="M105.4 19 L108.8 12.7 L112.2 19 Z" fill="#26a69a"/>
<text x="116" y="19.6" textLength="77.80" lengthAdjust="spacingAndGlyphs">+0.00011 (+0.01%)</text>
<text x="197.5" y="19.6" textLength="9.10" lengthAdjust="spacingAndGlyphs" font-weight="bold" fill="#222">O:</text>
<text x="208.5" y="19.6" textLength="32.90" lengthAdjust="spacingAndGlyphs" fill="#35aca0">1.29654</text>
<text x="245" y="19.6" textLength="8.40" lengthAdjust="spacingAndGlyphs" font-weight="bold" fill="#222">H:</text>
<text x="254.9" y="19.6" textLength="33.00" lengthAdjust="spacingAndGlyphs" fill="#35aca0">1.29654</text>
<text x="292" y="19.6" textLength="6.70" lengthAdjust="spacingAndGlyphs" font-weight="bold" fill="#222">L:</text>
<text x="300.3" y="19.6" textLength="33.00" lengthAdjust="spacingAndGlyphs" fill="#35aca0">1.29650</text>
<text x="337" y="19.6" textLength="8.30" lengthAdjust="spacingAndGlyphs" font-weight="bold" fill="#222">C:</text>
<text x="346.6" y="19.6" textLength="33.00" lengthAdjust="spacingAndGlyphs" fill="#35aca0">1.29652</text>
</g>
</g>
<g font-family="Liberation Sans, Arial, sans-serif" fill="#4a4c57">
<text x="11.4" y="41.5" font-size="8.4" font-weight="bold" textLength="164.4" lengthAdjust="spacingAndGlyphs">U.S. Dollar / Canadian Dollar, 1, FXCM</text>
<text x="11.4" y="53.4" font-size="8.4" fill="#666" textLength="32" lengthAdjust="spacingAndGlyphs">Vol (20)</text>
</g>
<g id="logo"><g fill="#2196f3"><circle cx="12.4" cy="476.2" r="4.8"/><circle cx="8.2" cy="479.3" r="3.6"/><circle cx="19.3" cy="478.9" r="4"/><rect x="8.2" y="478" width="11.1" height="4.9"/></g><polyline points="5.7,480.8 11.7,475.9 16.1,480 20.2,475.9" fill="none" stroke="#fff" stroke-width="0.9"/><circle cx="11.7" cy="475.9" r="1.25" fill="#fff"/><circle cx="16.1" cy="480" r="1.25" fill="#fff"/></g>
<text x="24.3" y="479.8" font-family="Liberation Sans, Arial, sans-serif" font-size="8.6" fill="#222" textLength="52" lengthAdjust="spacingAndGlyphs">TradingView</text>
</g></svg>
</body></html>
